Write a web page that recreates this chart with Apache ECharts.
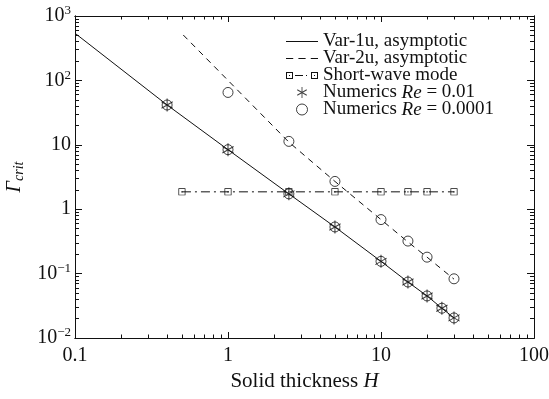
<!DOCTYPE html>
<html><head><meta charset="utf-8">
<script src="https://cdn.jsdelivr.net/npm/echarts@6/dist/echarts.min.js"></script>
<style>html,body{margin:0;padding:0;background:#fff}#c{width:549px;height:399px}</style>
</head><body><div id="c"></div>
<script>
// ---- data ----
const var1uH = [0.1, 0.4, 1, 2.5, 5, 10, 15, 20, 25, 30];
const var1uG = [540, 41.5, 8.4, 1.73, 0.53, 0.155, 0.074, 0.045, 0.029, 0.0205];
const var2uH = [0.51, 1, 2.5, 5, 10, 15, 20, 30];
const var2uG = [507, 100, 11.0, 2.7, 0.69, 0.31, 0.18, 0.082];
const swH = [0.5, 1, 2.5, 5, 10, 15, 20, 30];
const swG = [1.86, 1.86, 1.86, 1.86, 1.86, 1.86, 1.86, 1.86];
const re001H = [0.4, 1, 2.5, 5, 10, 15, 20, 25, 30];
const re001G = [41.5, 8.4, 1.73, 0.53, 0.155, 0.074, 0.045, 0.029, 0.0205];
const re0001H = [0.4, 1, 2.5, 5, 10, 15, 20, 25, 30, 1, 2.5, 5, 10, 15, 20, 30];
const re0001G = [41.5, 8.4, 1.73, 0.53, 0.155, 0.074, 0.045, 0.029, 0.0205, 65, 11.3, 2.7, 0.69, 0.32, 0.18, 0.083];
const xMajor = [0.1, 1, 10, 100];
const yMajor = [0.01, 0.1, 1, 10, 100, 1000];
const xTickLabels = ['0.1', '1', '10', '100'];
const yTickLabels = ['10{s|\u22122}', '10{s|\u22121}', '1', '10', '10{s|2}', '10{s|3}'];
const seriesNames = ['Var-1u, asymptotic', 'Var-2u, asymptotic', 'Short-wave mode', 'Numerics Re = 0.01', 'Numerics Re = 0.0001'];

function minors(lo, hi) {
  const out = [];
  for (let d = lo; d < hi; d *= 10) for (let k = 2; k <= 9; k++) out.push(+(d * k).toPrecision(6));
  return out;
}
const zip = (a, b) => a.map((v, i) => [v, b[i]]);
const FONT = 'Liberation Serif';
const ink = '#111';

// path helpers (symbol shapes)
const rect = (x0, y0, x1, y1) => `M${x0},${y0}L${x1},${y0}L${x1},${y1}L${x0},${y1}Z`;
const rectRev = (x0, y0, x1, y1) => `M${x0},${y0}L${x0},${y1}L${x1},${y1}L${x1},${y0}Z`;
function bar(theta, r, w) {
  const c = Math.cos(theta), s = Math.sin(theta), nx = -s * w, ny = c * w;
  const p = [[c * r + nx, s * r + ny], [-c * r + nx, -s * r + ny], [-c * r - nx, -s * r - ny], [c * r - nx, s * r - ny]];
  return 'M' + p.map(q => q[0].toFixed(3) + ',' + q[1].toFixed(3)).join('L') + 'Z';
}
const asterisk = 'path://' + [Math.PI / 2, Math.PI / 6, -Math.PI / 6].map(t => bar(t, 10, 0.8)).join('');
const squareDot = 'path://' + rect(-5, -5, 5, 5) + rectRev(-4, -4, 4, 4) + rect(-0.8, -0.8, 0.8, 0.8);
const iconSolid = 'path://' + rect(0, 0, 32, 1);
const iconDash = 'path://' + rect(0, 0, 7, 1) + rect(12, 0, 19, 1) + rect(24, 0, 31, 1);
const iconSW = 'path://' + rect(0, -3.5, 7, 3.5) + rectRev(1, -2.5, 6, 2.5) + rect(3, -0.5, 4, 0.5)
  + rect(9, -0.5, 17, 0.5) + rect(20, -0.5, 21, 0.5)
  + rect(25, -3.5, 32, 3.5) + rectRev(26, -2.5, 31, 2.5) + rect(28, -0.5, 29, 0.5);

const chart = echarts.init(document.getElementById('c'));
function xAx(pos, vals, len, labels) {
  return {
    type: 'log', logBase: 10, min: 0.1, max: 100, position: pos,
    axisLine: { show: true, lineStyle: { color: ink, width: 1 } },
    axisTick: { show: true, inside: true, length: len, customValues: vals, lineStyle: { color: ink } },
    axisLabel: labels ? {
      show: true, customValues: xMajor, margin: 8, color: ink, fontFamily: FONT, fontSize: 20,
      formatter: v => xTickLabels[xMajor.findIndex(m => Math.abs(Math.log10(m) - Math.log10(v)) < 1e-6)]
    } : { show: false },
    splitLine: { show: false }, minorTick: { show: false },
    name: labels ? '{t|Solid thickness }{i|H}' : '',
    nameLocation: 'middle', nameGap: 29,
    nameTextStyle: { rich: { t: { fontFamily: FONT, fontSize: 21, color: ink }, i: { fontFamily: FONT, fontStyle: 'italic', fontSize: 21, color: ink } } }
  };
}
function yAx(pos, vals, len, labels) {
  return {
    type: 'log', logBase: 10, min: 0.01, max: 1000, position: pos,
    axisLine: { show: true, lineStyle: { color: ink, width: 1 } },
    axisTick: { show: true, inside: true, length: len, customValues: vals, lineStyle: { color: ink } },
    axisLabel: labels ? {
      show: true, customValues: yMajor, margin: 4, color: ink, fontFamily: FONT, fontSize: 20,
      formatter: v => yTickLabels[yMajor.findIndex(m => Math.abs(Math.log10(m) - Math.log10(v)) < 1e-6)],
      rich: { s: { fontFamily: FONT, fontSize: 13, color: ink, padding: [0, 0, 10, 0] } }
    } : { show: false },
    splitLine: { show: false }, minorTick: { show: false },
    name: labels ? '{g|\u0393}{s|crit}' : '',
    nameLocation: 'middle', nameGap: 49, nameRotate: 90,
    nameTextStyle: { rich: { g: { fontFamily: FONT, fontStyle: 'italic', fontSize: 20, color: ink }, s: { fontFamily: FONT, fontStyle: 'italic', fontSize: 14, color: ink, padding: [9, 0, 0, 0] } } }
  };
}
const solidItem = { color: ink, borderWidth: 0 };

chart.setOption({
  backgroundColor: '#fff',
  animation: false,
  textStyle: { fontFamily: FONT },
  grid: { left: 75, right: 15, top: 16, bottom: 61, containLabel: false, outerBoundsMode: 'none' },
  xAxis: [xAx('bottom', xMajor, 6, true), xAx('top', xMajor, 6, false), xAx('bottom', minors(0.1, 100), 3.5, false), xAx('top', minors(0.1, 100), 3.5, false)],
  yAxis: [yAx('left', yMajor, 7, true), yAx('right', yMajor, 7, false), yAx('left', minors(0.01, 1000), 4, false), yAx('right', minors(0.01, 1000), 4, false)],
  legend: {
    orient: 'vertical', left: 281, top: 27, itemWidth: 32, itemHeight: 11, itemGap: -2,
    data: [
      { name: seriesNames[0], icon: iconSolid, itemStyle: solidItem },
      { name: seriesNames[1], icon: iconDash, itemStyle: solidItem },
      { name: seriesNames[2], icon: iconSW, itemStyle: solidItem },
      { name: seriesNames[3], icon: asterisk, itemStyle: solidItem },
      { name: seriesNames[4], icon: 'circle', itemStyle: { color: 'rgba(0,0,0,0)', borderColor: ink, borderWidth: 1 } }
    ],
    formatter: n => n.indexOf('Numerics Re') === 0 ? '{a|Numerics }{i|Re}{a|' + n.slice(11) + '}' : '{a|' + n + '}',
    textStyle: { fontFamily: FONT, rich: { a: { fontFamily: FONT, fontSize: 19, lineHeight: 17.5, color: ink }, i: { fontFamily: FONT, fontStyle: 'italic', fontSize: 19, lineHeight: 17.5, color: ink } } }
  },
  series: [
    { name: seriesNames[0], type: 'line', data: zip(var1uH, var1uG), symbol: 'none', lineStyle: { color: ink, width: 1 }, itemStyle: { color: ink } },
    { name: seriesNames[1], type: 'line', data: zip(var2uH, var2uG), symbol: 'none', lineStyle: { color: ink, width: 1, type: [6, 5] }, itemStyle: { color: ink } },
    { name: seriesNames[2], type: 'line', data: zip(swH, swG), symbol: squareDot, symbolSize: 7, lineStyle: { color: ink, width: 1, type: [9, 4, 2, 4] }, itemStyle: { color: ink, borderWidth: 0 } },
    { name: seriesNames[3], type: 'scatter', data: zip(re001H, re001G), symbol: asterisk, symbolKeepAspect: true, symbolSize: 13, itemStyle: { color: ink, borderWidth: 0 } },
    { name: seriesNames[4], type: 'scatter', data: zip(re0001H, re0001G), symbol: 'circle', symbolSize: 10, itemStyle: { color: 'rgba(0,0,0,0)', borderColor: ink, borderWidth: 1 } }
  ]
});
</script></body></html>
